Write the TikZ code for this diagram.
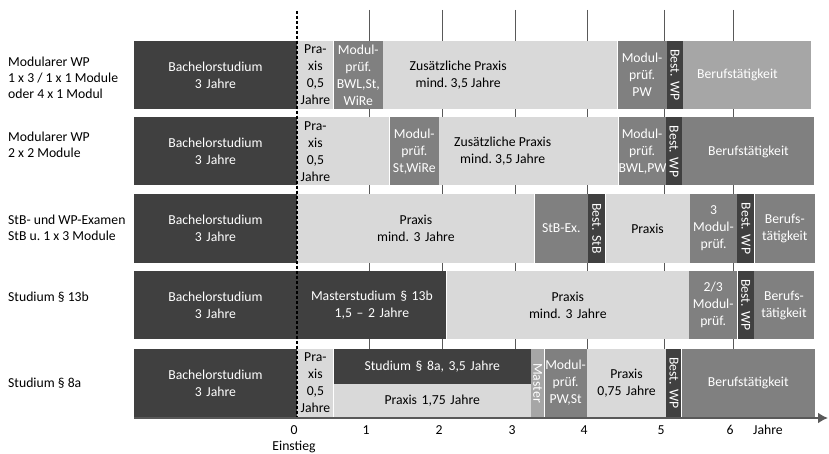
\documentclass[tikz,border=0pt]{standalone}
\usepackage{fontspec}
\setmainfont{Carlito}
\usepackage{graphicx}
\usepackage{tikz}
\usetikzlibrary{arrows.meta,positioning}
\definecolor{dk}{HTML}{404040}
\definecolor{lt}{HTML}{D9D9D9}
\definecolor{md}{HTML}{808080}
\definecolor{pl}{HTML}{A6A6A6}
\definecolor{ax}{HTML}{595959}
\frenchspacing

\begin{document}
\begin{tikzpicture}[x=1pt,y=-1pt,
    node distance=0pt and 0pt,
    seg/.style={inner sep=0pt,minimum height=68pt,text width=#1pt,align=center,font=\fontsize{13.7}{17}\selectfont},
    bach/.style={seg=#1,fill=dk,text=white},
    prax/.style={seg=#1,fill=lt,text=black},
    modp/.style={seg=#1,fill=md,text=white},
    best/.style={seg=#1,fill=dk,text=white},
    pale/.style={seg=#1,fill=pl,text=white},
    txt/.style={inner sep=0pt,align=center,font=\fontsize{13.7}{17}\selectfont},
    lab/.style={anchor=west,inner sep=0pt,align=left,font=\fontsize{13.7}{16}\selectfont},
    tick/.style={inner sep=0pt,font=\fontsize{13.7}{16}\selectfont},
    grid/.style={draw=ax,line width=1pt},
    axis/.style={draw=ax,line width=2.5pt,-{Latex[length=10pt,width=11pt]}}
]
\useasboundingbox (0,0) rectangle (829,454);

% year lines
\foreach \x/\t in {369/1,442/2,515/3,587/4,664/5,733/6} {
  \draw[grid] (\x,10) -- (\x,418);
  \node[tick] (t\t) at (\x-3,430) {\t};
}

% row labels
\node[lab] (l1) at (8,78) {Modularer WP\\1 x 3 / 1 x 1 Module\\oder 4 x 1 Modul};
\node[lab] (l2) at (8,145) {Modularer WP\\2 x 2 Module};
\node[lab] (l3) at (8,228) {StB- und WP-Examen\\StB u. 1 x 3 Module};
\node[lab] (l4) at (8,297) {Studium § 13b};
\node[lab] (l5) at (8,383) {Studium § 8a};

% row 1
\node[bach=163] (b1) at (215.5,75) {Bachelorstudium\\3 Jahre};
\node[prax=36,right=of b1] (p1) {Pra-\\xis\\0,5\\Jahre};
\node[modp=49,right=of p1] (m1) {Modul-\\prüf.\\BWL,St,\\WiRe};
\node[prax=234,right=of m1] (z1) {};
\node[modp=49,right=of z1] (n1) {Modul-\\prüf.\\PW};
\node[best=16,right=of n1] (w1) {\rotatebox{-90}{Best. WP}};
\node[pale=128,right=of w1] (j1) {};
\node[txt] (zt1) at ([xshift=-42pt]z1.center) {Zusätzliche Praxis\\mind. 3,5 Jahre};
\node[txt,text=white] (jt1) at ([xshift=-10pt]j1.center) {Berufstätigkeit};

% row 2
\node[bach=163] (b2) at (215.5,151.5) {Bachelorstudium\\3 Jahre};
\node[prax=92,right=of b2] (p2) {};
\node[modp=49,right=of p2] (m2) {Modul-\\prüf.\\St,WiRe};
\node[prax=179,right=of m2] (z2) {};
\node[modp=47,right=of z2] (n2) {Modul-\\prüf.\\BWL,PW};
\node[best=16,right=of n2] (w2) {\rotatebox{-90}{Best. WP}};
\node[modp=132,right=of w2] (j2) {Berufstätigkeit};
\node[txt] (pt2) at ([xshift=-28pt]p2.center) {Pra-\\xis\\0,5\\Jahre};
\node[txt] (zt2) at ([xshift=-26pt]z2.center) {Zusätzliche Praxis\\mind. 3,5 Jahre};

% row 3
\node[bach=163] (b3) at (215.5,228.5) {Bachelorstudium\\3 Jahre};
\node[prax=237,right=of b3] (p3) {Praxis\\mind. 3 Jahre};
\node[modp=53,right=of p3] (s3) {StB-Ex.};
\node[best=17,right=of s3] (v3) {\rotatebox{-90}{Best. StB}};
\node[prax=84,right=of v3] (q3) {Praxis};
\node[modp=47,right=of q3] (m3) {3\\Modul-\\prüf.};
\node[best=17,right=of m3] (w3) {\rotatebox{-90}{Best. WP}};
\node[modp=60,right=of w3] (j3) {Berufs-\\tätigkeit};

% row 4
\node[bach=163] (b4) at (215.5,305) {Bachelorstudium\\3 Jahre};
\node[bach=149,right=of b4] (s4) {Masterstudium § 13b\\1,5 -- 2 Jahre};
\node[prax=242,right=of s4] (p4) {Praxis\\mind. 3 Jahre};
\node[modp=48,right=of p4] (m4) {2/3\\Modul-\\prüf.};
\node[best=16,right=of m4] (w4) {\rotatebox{-90}{Best. WP}};
\node[modp=60,right=of w4] (j4) {Berufs-\\tätigkeit};

% row 5
\node[bach=163] (b5) at (215.5,383) {Bachelorstudium\\3 Jahre};
\node[prax=36,right=of b5] (p5) {Pra-\\xis\\0,5\\Jahre};
\node[bach=197,minimum height=35pt,anchor=north west] (s5) at (p5.north east) {Studium § 8a, 3,5 Jahre};
\node[prax=197,minimum height=33pt,anchor=north west] (h5) at (s5.south west) {Praxis 1,75 Jahre};
\node[pale=13,anchor=north west] (ms5) at (s5.north east) {\rotatebox{-90}{Master}};
\node[modp=42,right=of ms5] (m5) {Modul-\\prüf.\\PW,St};
\node[prax=79,right=of m5] (q5) {Praxis\\0,75 Jahre};
\node[best=15,right=of q5] (w5) {\rotatebox{-90}{Best. WP}};
\node[modp=133,right=of w5] (j5) {Berufstätigkeit};

% start line and axis
\coordinate (d0) at (297,11);
\coordinate (d1) at (297,418);
\draw[line width=1.2pt,dash pattern=on 3pt off 2pt] (d0) -- (d1);
\coordinate (a0) at (134,418);
\coordinate (a1) at (828,418);
\draw[axis] (a0) -- (a1);
\node[tick] (t0) at (294,430) {0};
\node[tick] (ein) at (294,447) {Einstieg};
\node[tick] (yr) at (768,430) {Jahre};
\end{tikzpicture}
\end{document}
